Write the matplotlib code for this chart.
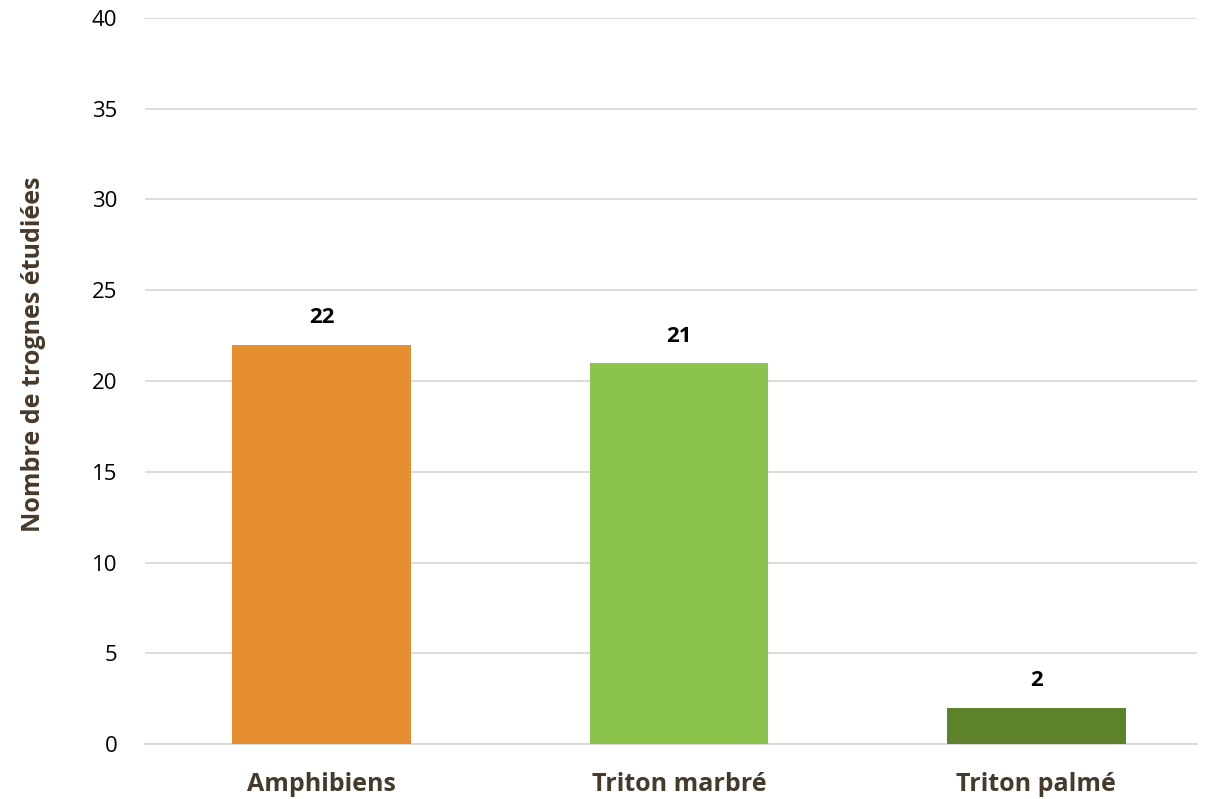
import numpy as np
import matplotlib.pyplot as plt

categories = ['Amphibiens', 'Triton marbré', 'Triton palmé']
values = [22, 21, 2]
colors = ['#E78E30', '#8CC34C', '#5E822C']

plt.rcParams['font.family'] = ['Open Sans', 'DejaVu Sans']

fig = plt.figure(figsize=(12.08, 7.99), dpi=100)
ax = fig.add_axes([0.12, 0.0688, 0.871, 0.9087])

x = np.arange(len(categories))
ax.bar(x, values, width=0.5, color=colors, zorder=3)

for xi, v in zip(x, values):
    ax.text(xi, v + 0.9, str(v), ha='center', va='bottom',
            fontsize=16, fontweight='bold', color='black')

ax.set_ylim(0, 40)
ax.set_xlim(-0.495, 2.45)
ax.set_yticks(np.arange(0, 41, 5))
ax.yaxis.grid(True, color='#D9D9D9', linewidth=1.3, zorder=0)
ax.set_xticks(x)
ax.set_xticklabels(categories, fontsize=18, fontweight='bold', color='#463A2C')
ax.tick_params(axis='y', labelsize=16, length=0, pad=20)
ax.tick_params(axis='x', length=0, pad=20)
for s in ['top', 'right', 'left']:
    ax.spines[s].set_visible(False)
ax.spines['bottom'].set_color('#D9D9D9')
ax.spines['bottom'].set_linewidth(1.3)

ax.set_ylabel('Nombre de trognes étudiées', fontsize=18, fontweight='bold',
              color='#463A2C')
ax.yaxis.set_label_coords(-0.094, 0.537)

plt.savefig('out.png', dpi=100)
